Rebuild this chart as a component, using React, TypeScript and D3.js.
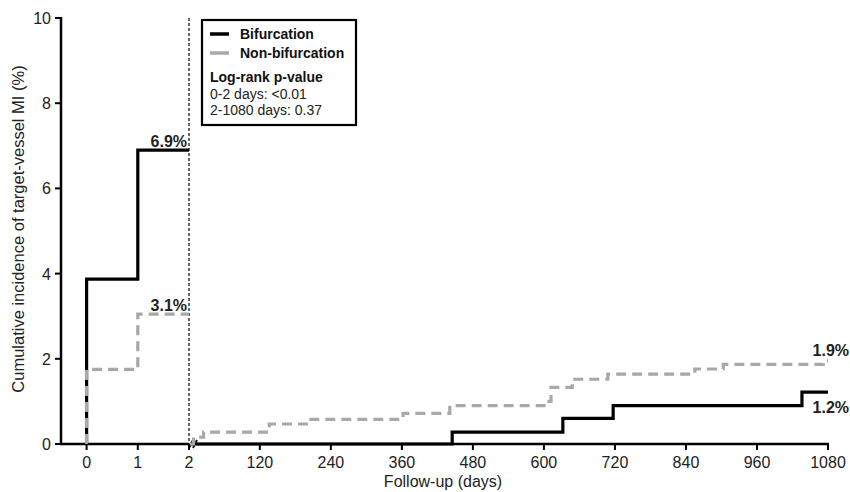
import React from "react";
import * as d3 from "d3";

const yTicks = [0, 2, 4, 6, 8, 10];
const xTicksLeft = [0, 1, 2];
const xTicksRight = [120, 240, 360, 480, 600, 720, 840, 960, 1080];

// Early phase (0-2 days)
const bifEarlyDays = [0, 0, 1, 2];
const bifEarlyVals = [0, 3.87, 6.9, 6.9];
const nonEarlyDays = [0, 0, 1, 2];
const nonEarlyVals = [0, 1.75, 3.05, 3.05];

// Late phase (2-1080 days)
const bifLateDays = [2, 445, 632, 717, 1036, 1080];
const bifLateVals = [0, 0.28, 0.6, 0.9, 1.22, 1.22];
const nonLateDays = [2, 8, 25, 136, 203, 362, 441, 600, 612, 648, 708, 855, 903, 1072, 1080];
const nonLateVals = [0, 0.16, 0.28, 0.47, 0.58, 0.72, 0.9, 1.0, 1.33, 1.52, 1.64, 1.76, 1.87, 1.95, 1.95];

const FONT = "'Liberation Sans', Arial, Helvetica, sans-serif";

export default function App() {
  const W = 850, H = 492;
  const y = d3.scaleLinear().domain([0, 10]).range([444, 18]);
  const xL = d3.scaleLinear().domain([-0.5, 2]).range([61, 189]);
  const xR = d3.scaleLinear().domain([2, 1080]).range([190, 828]);

  const mk = (xs: any, days: number[], vals: number[]) =>
    d3
      .line<number>()
      .x((_, i) => xs(days[i]))
      .y((_, i) => y(vals[i]))
      .curve(d3.curveStepAfter)(vals) || "";

  const bifEarly = mk(xL, bifEarlyDays, bifEarlyVals);
  const nonEarly = mk(xL, nonEarlyDays, nonEarlyVals);
  const bifLate = mk(xR, bifLateDays, bifLateVals);
  const nonLate = mk(xR, nonLateDays, nonLateVals);

  const grey = "#a8a8a8";
  const y0 = y(0);

  return (
    <svg width={W} height={H} style={{ position: "absolute", left: 0, top: 0, background: "#fff" }} fontFamily={FONT}>
      <rect x={0} y={0} width={W} height={H} fill="#fff" />
      {/* y axis label */}
      <text
        transform={`translate(24,${(y(0) + y(10)) / 2 - 2}) rotate(-90)`}
        textAnchor="middle"
        fontSize={16.5}
        fill="#222"
      >
        Cumulative incidence of target-vessel MI (%)
      </text>
      {/* y axis */}
      <line x1={61} x2={61} y1={y(10) - 1} y2={y0 + 1} stroke="#000" strokeWidth={2.5} />
      {yTicks.map((t) => (
        <g key={t}>
          <line x1={55} x2={61} y1={y(t)} y2={y(t)} stroke="#000" strokeWidth={2} />
          <text x={51} y={y(t) + 6} textAnchor="end" fontSize={16} fill="#222">
            {t}
          </text>
        </g>
      ))}
      {/* x axis left */}
      <line x1={60} x2={189} y1={y0} y2={y0} stroke="#000" strokeWidth={2.5} />
      {xTicksLeft.map((t) => (
        <g key={"l" + t}>
          <line x1={xL(t)} x2={xL(t)} y1={y0} y2={y0 + 6} stroke="#000" strokeWidth={2} />
          <text x={xL(t)} y={y0 + 24} textAnchor="middle" fontSize={16} fill="#222">
            {t}
          </text>
        </g>
      ))}
      {/* x axis right */}
      <line x1={196} x2={xR(1080) + 1} y1={y0} y2={y0} stroke="#000" strokeWidth={2.5} />
      {xTicksRight.map((t) => (
        <g key={"r" + t}>
          <line x1={xR(t)} x2={xR(t)} y1={y0} y2={y0 + 6} stroke="#000" strokeWidth={2} />
          <text x={xR(t)} y={y0 + 24} textAnchor="middle" fontSize={16} fill="#222">
            {t}
          </text>
        </g>
      ))}
      {/* axis break marks */}
      <line x1={189} x2={193} y1={y0 + 4} y2={y0 - 4} stroke="#000" strokeWidth={1.8} />
      <line x1={193} x2={197} y1={y0 + 4} y2={y0 - 4} stroke="#000" strokeWidth={1.8} />
      <text x={443} y={487} textAnchor="middle" fontSize={16} fill="#222">
        Follow-up (days)
      </text>
      {/* vertical dashed divider */}
      <line x1={189} x2={189} y1={y(10)} y2={y0} stroke="#000" strokeWidth={1.2} strokeDasharray="3,2" />
      {/* curves */}
      <path d={bifEarly} fill="none" stroke="#000" strokeWidth={3.2} />
      <path d={nonEarly} fill="none" stroke={grey} strokeWidth={3.2} strokeDasharray="10,6" />
      <path d={bifLate} fill="none" stroke="#000" strokeWidth={3.2} />
      <path d={nonLate} fill="none" stroke={grey} strokeWidth={3.2} strokeDasharray="10,6" />
      {/* annotations */}
      <text x={187} y={147} textAnchor="end" fontSize={16} fontWeight="bold" fill="#222">6.9%</text>
      <text x={187} y={311} textAnchor="end" fontSize={16} fontWeight="bold" fill="#222">3.1%</text>
      <text x={849} y={356} textAnchor="end" fontSize={16} fontWeight="bold" fill="#222">1.9%</text>
      <text x={849} y={413} textAnchor="end" fontSize={16} fontWeight="bold" fill="#222">1.2%</text>
      {/* legend */}
      <rect x={202} y={20} width={154} height={105} fill="#fff" stroke="#000" strokeWidth={2.2} />
      <line x1={210} x2={229} y1={34} y2={34} stroke="#000" strokeWidth={3.5} />
      <line x1={210} x2={229} y1={53} y2={53} stroke={grey} strokeWidth={3.5} />
      <text x={240} y={39} fontSize={14} fontWeight="bold" fill="#111">Bifurcation</text>
      <text x={240} y={58} fontSize={14} fontWeight="bold" fill="#111">Non-bifurcation</text>
      <text x={210} y={82} fontSize={14} fontWeight="bold" fill="#111">Log-rank p-value</text>
      <text x={210} y={99} fontSize={14} fill="#222">0-2 days: &lt;0.01</text>
      <text x={210} y={115} fontSize={14} fill="#222">2-1080 days: 0.37</text>
    </svg>
  );
}
